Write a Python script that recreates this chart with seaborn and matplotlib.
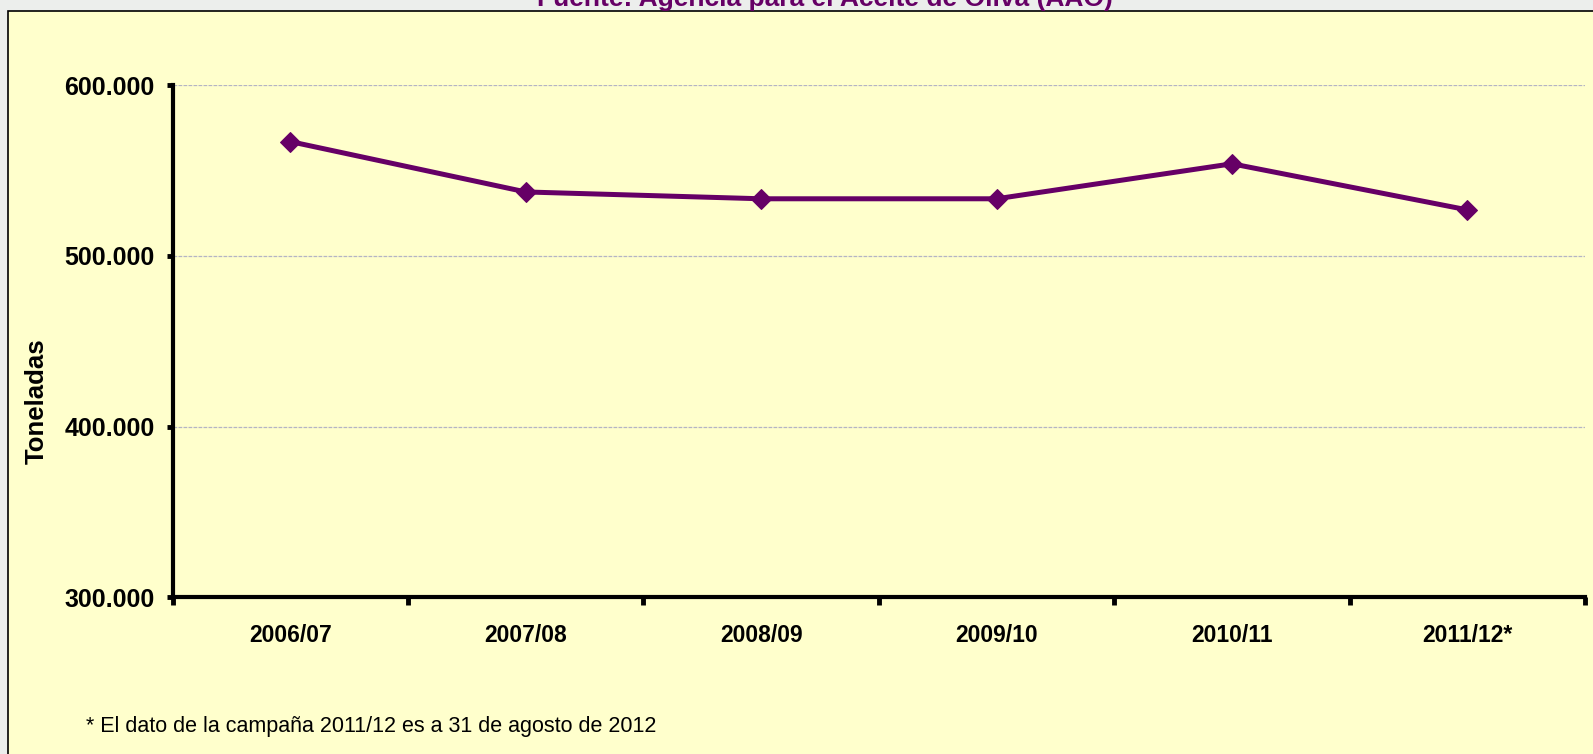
from matplotlib import pyplot as plt
from matplotlib import patches
import pandas as pd
import seaborn as sns

campaigns = ["2006/07", "2007/08", "2008/09", "2009/10", "2010/11", "2011/12*"]
tonnes = [567000, 537500, 533500, 533500, 554000, 527000]
y_ticks = [300000, 400000, 500000, 600000]
y_tick_labels = ["300.000", "400.000", "500.000", "600.000"]

title = "Fuente: Agencia para el Aceite de Oliva (AAO)"
footnote = "* El dato de la campaña 2011/12 es a 31 de agosto de 2012"

PURPLE = "#660066"
PANEL = "#ffffcc"

sns.set_style("white")
plt.rcParams["font.family"] = ["Liberation Sans", "DejaVu Sans"]
plt.rcParams["text.color"] = "black"

df = pd.DataFrame({"campaign": campaigns, "tonnes": tonnes})

fig = plt.figure(figsize=(15.93, 7.54), dpi=100)
fig.patch.set_facecolor("#eceeec")

# yellow panel behind the chart
panel = patches.Rectangle(
    (8.3 / 1593, -0.01), 1.02, 1 - 10.7 / 754 + 0.01,
    transform=fig.transFigure, facecolor=PANEL, edgecolor="black", linewidth=1.2, zorder=0,
)
fig.add_artist(panel)

ax = fig.add_axes([0.1084, 0.2078, 0.995 - 0.1084, 0.8869 - 0.2078])
ax.set_facecolor("none")
ax.set_zorder(2)

sns.lineplot(
    data=df, x="campaign", y="tonnes", ax=ax, color=PURPLE, linewidth=3.6,
    marker="D", markersize=10, markeredgecolor=PURPLE, markerfacecolor=PURPLE, sort=False,
)

ax.set_ylim(y_ticks[0], y_ticks[-1])
ax.set_yticks(y_ticks)
ax.set_yticklabels(y_tick_labels)
ax.set_xlim(-0.5, len(campaigns) - 0.5)

# ticks at category borders, labels centered
ax.set_xticks([i - 0.5 for i in range(len(campaigns) + 1)])
ax.set_xticklabels([])
ax.set_xticks(range(len(campaigns)), minor=True)
ax.set_xticklabels(campaigns, minor=True)
ax.tick_params(axis="x", which="major", bottom=True, direction="out", length=6, width=3.5, color="black")
ax.tick_params(axis="x", which="minor", bottom=True, length=0, pad=19, labelsize=16.5, labelcolor="black")
ax.tick_params(axis="y", left=True, direction="out", length=4, width=3.5, color="black", pad=9,
               labelsize=18, labelcolor="black")
for lab in ax.get_xticklabels(minor=True) + ax.get_yticklabels():
    lab.set_fontweight("bold")

ax.yaxis.grid(True, linestyle=(0, (3, 1)), color="#b4b4c4", linewidth=0.9)
ax.xaxis.grid(False)
ax.set_axisbelow(True)

for side in ["top", "right"]:
    ax.spines[side].set_visible(False)
for side in ["left", "bottom"]:
    ax.spines[side].set_linewidth(3)
    ax.spines[side].set_color("black")

ax.set_xlabel("")
ax.set_ylabel("")
fig.text(36.7 / 1593, 1 - 401 / 754, "Toneladas", rotation=90, ha="center", va="center",
         fontsize=18.5, fontweight="bold", color="black")

fig.text(825 / 1593, 1 - 6 / 754, title, ha="center", va="baseline", fontsize=19,
         fontweight="bold", color=PURPLE)
fig.text(86 / 1593, 1 - 732 / 754, footnote, ha="left", va="baseline", fontsize=15.5, color="black")

fig.savefig("out.png", dpi=100, facecolor=fig.get_facecolor())
